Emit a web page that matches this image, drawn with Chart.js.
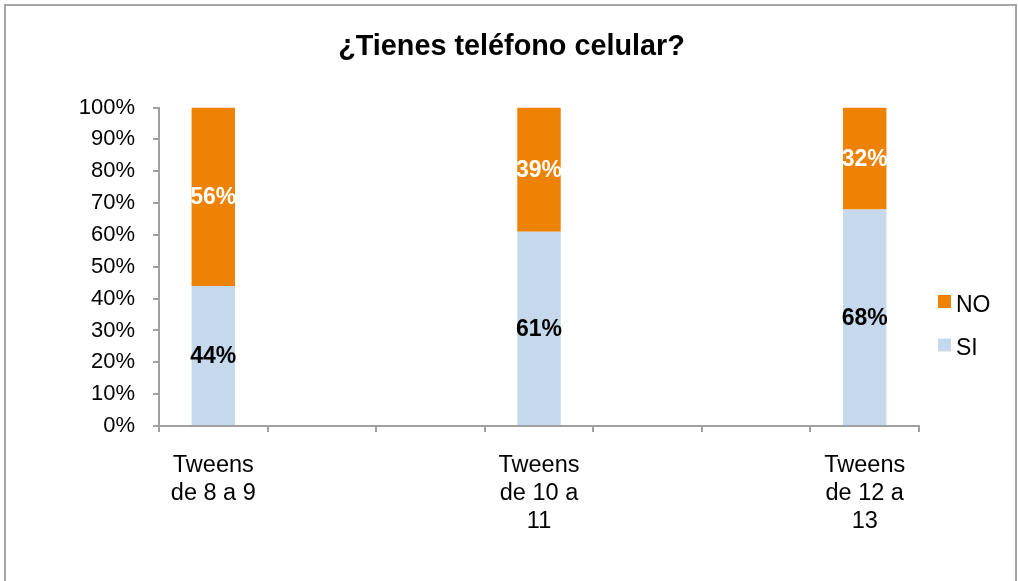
<!DOCTYPE html>
<html>
<head>
<meta charset="utf-8">
<script src="https://cdn.jsdelivr.net/npm/chart.js@4.4.1/dist/chart.umd.min.js"></script>
<style>
  html, body { margin: 0; padding: 0; background: #fff; }
  #wrap { width: 1018px; height: 581px; position: relative; }
</style>
</head>
<body>
<div id="wrap"><canvas id="c" width="1018" height="581"></canvas></div>
<script>
// categories (empty slots keep Excel's spacing between the three groups)
const categories = [['Tweens', 'de 8 a 9'], '', '', ['Tweens', 'de 10 a', '11'], '', '', ['Tweens', 'de 12 a', '13']];
const siValues = [44, null, null, 61, null, null, 68];
const noValues = [56, null, null, 39, null, null, 32];
const yTicks = [0, 10, 20, 30, 40, 50, 60, 70, 80, 90, 100];

const FONT = "'Liberation Sans', Arial, sans-serif";
const AXIS = '#a0a0a0';

const frameAndLabels = {
  id: 'frameAndLabels',
  beforeDraw(chart) {
    const g = chart.ctx;
    g.save();
    g.fillStyle = '#fff';
    g.fillRect(0, 0, chart.width, chart.height);
    g.strokeStyle = '#a6a6a6';
    g.lineWidth = 2;
    g.strokeRect(5, 5, 1011, 600);
    g.restore();
  },
  afterDatasetsDraw(chart) {
    const g = chart.ctx;
    g.save();
    g.font = 'bold 23px ' + FONT;
    g.textAlign = 'center';
    g.textBaseline = 'middle';
    chart.data.datasets.forEach((ds, i) => {
      chart.getDatasetMeta(i).data.forEach((bar, j) => {
        const v = ds.data[j];
        if (v == null) return;
        g.fillStyle = ds.labelColor;
        g.fillText(v + '%', bar.x, (bar.y + bar.base) / 2 + 1);
      });
    });
    // legend (NO on top, like the Excel original)
    const items = [chart.data.datasets[1], chart.data.datasets[0]];
    const ys = [301.5, 345];
    g.font = '23px ' + FONT;
    g.textAlign = 'left';
    g.textBaseline = 'alphabetic';
    items.forEach((ds, k) => {
      g.fillStyle = ds.backgroundColor;
      g.fillRect(938, ys[k] - 6.5, 13, 13);
      g.fillStyle = '#000';
      g.fillText(ds.label, 956, ys[k] + 10);
    });
    g.restore();
  }
};

new Chart(document.getElementById('c'), {
  type: 'bar',
  data: {
    labels: categories,
    datasets: [
      { label: 'SI', data: siValues, backgroundColor: '#c6d9ec', labelColor: '#000',
        barPercentage: 0.4, categoryPercentage: 1 },
      { label: 'NO', data: noValues, backgroundColor: '#ee8204', labelColor: '#fff',
        barPercentage: 0.4, categoryPercentage: 1 }
    ]
  },
  options: {
    responsive: false, animation: false,
    layout: { padding: { left: 52, right: 47, top: 0, bottom: 0 } },
    plugins: {
      legend: { display: false },
      tooltip: { enabled: false },
      title: { display: true, text: '¿Tienes teléfono celular?', color: '#000',
        font: { family: FONT, size: 28.8, weight: 'bold', lineHeight: 1.2 }, padding: { top: 30, bottom: 43 } }
    },
    scales: {
      x: {
        stacked: true,
        afterFit: s => { s.height = 155; },
        grid: { display: true, drawOnChartArea: false, drawTicks: true, tickLength: 6, color: AXIS, lineWidth: 2, offset: true },
        border: { color: AXIS, width: 2 },
        ticks: { color: '#000', font: { family: FONT, size: 23.5, lineHeight: 1.2 }, padding: 19, maxRotation: 0, autoSkip: false }
      },
      y: {
        stacked: true, min: 0, max: 100,
        afterFit: s => { s.width = 107; },
        afterBuildTicks: s => { s.ticks = yTicks.map(v => ({ value: v })); },
        grid: { display: true, drawOnChartArea: false, drawTicks: true, tickLength: 6, color: AXIS, lineWidth: 2 },
        border: { color: AXIS, width: 2 },
        ticks: { color: '#000', font: { family: FONT, size: 22 }, padding: 18, callback: v => v + '%' }
      },
      // empty right-hand box: leaves room for the legend column
      legendSpace: {
        type: 'linear', position: 'right', display: true,
        afterFit: s => { s.width = 52; },
        grid: { display: false }, border: { display: false }, ticks: { display: false }
      }
    }
  },
  plugins: [frameAndLabels]
});
</script>
</body>
</html>
